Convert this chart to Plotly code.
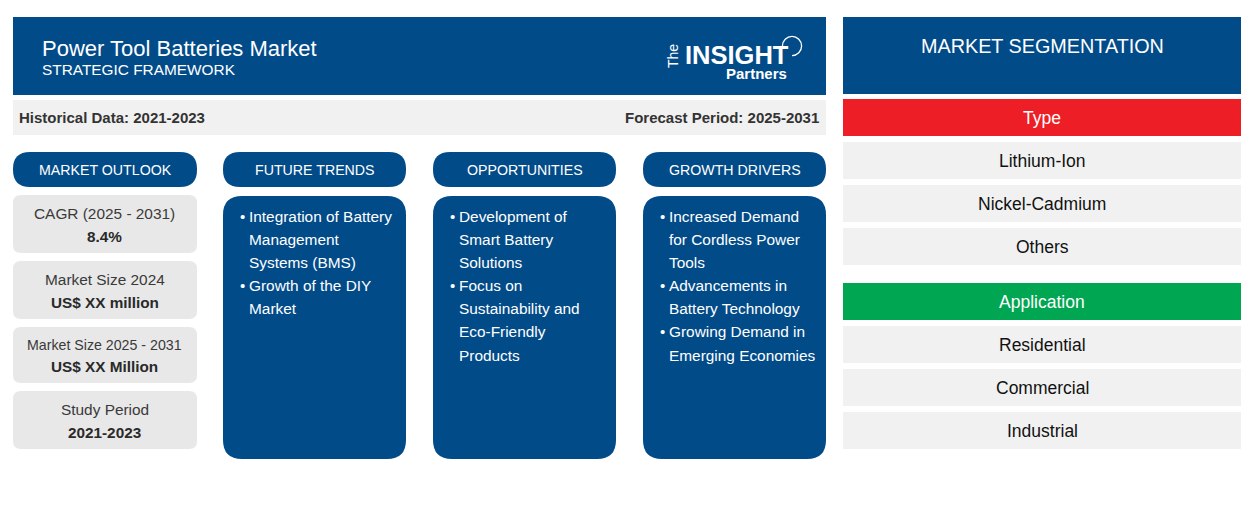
import plotly.graph_objects as go

TITLE = "Power Tool Batteries Market"
SUBTITLE = "STRATEGIC FRAMEWORK"
HISTORICAL = "Historical Data: 2021-2023"
FORECAST = "Forecast Period: 2025-2031"
OUTLOOK_LABELS = ["CAGR (2025 - 2031)", "Market Size 2024", "Market Size 2025 - 2031", "Study Period"]
OUTLOOK_VALUES = ["8.4%", "US$ XX million", "US$ XX Million", "2021-2023"]
COLUMN_HEADS = ["MARKET OUTLOOK", "FUTURE TRENDS", "OPPORTUNITIES", "GROWTH DRIVERS"]
TRENDS = [["Integration of Battery", "Management", "Systems (BMS)"], ["Growth of the DIY", "Market"]]
OPPORTUNITIES = [["Development of", "Smart Battery", "Solutions"], ["Focus on", "Sustainability and", "Eco-Friendly", "Products"]]
DRIVERS = [["Increased Demand", "for Cordless Power", "Tools"], ["Advancements in", "Battery Technology"], ["Growing Demand in", "Emerging Economies"]]
SEG_TITLE = "MARKET SEGMENTATION"
SEG_TYPE = "Type"
TYPE_ITEMS = ["Lithium-Ion", "Nickel-Cadmium", "Others"]
SEG_APP = "Application"
APP_ITEMS = ["Residential", "Commercial", "Industrial"]

BLUE = "#024b89"
GREY = "#e8e8e8"
LIGHT = "#f1f1f1"
RED = "#ee1e26"
GREEN = "#00a651"
FONT = "Liberation Sans"

shapes, notes = [], []


def rect(x0, y0, x1, y1, color, r=0):
    if r:
        path = (f"M{x0+r},{y0} L{x1-r},{y0} Q{x1},{y0} {x1},{y0+r} L{x1},{y1-r} Q{x1},{y1} {x1-r},{y1} "
                f"L{x0+r},{y1} Q{x0},{y1} {x0},{y1-r} L{x0},{y0+r} Q{x0},{y0} {x0+r},{y0} Z")
        shapes.append(dict(type="path", path=path, fillcolor=color, line_width=0, layer="below"))
    else:
        shapes.append(dict(type="rect", x0=x0, y0=y0, x1=x1, y1=y1, fillcolor=color, line_width=0, layer="below"))


def text(x, y, s, size, color="#ffffff", anchor="center", bold=False, family=FONT):
    # annotations carry about 2px of padding; compensate at the anchored edge
    dx = {"left": -2, "right": 2, "center": 0}[anchor]
    notes.append(dict(x=x + dx, y=y, text=f"<b>{s}</b>" if bold else s, showarrow=False, xanchor=anchor, yanchor="middle",
                      xref="x", yref="y", font=dict(family=family, size=size, color=color), align=anchor))


# header
rect(13, 17, 826, 95, BLUE)
text(42, 48, TITLE, 22, anchor="left")
text(42, 69.5, SUBTITLE, 15.4, anchor="left")
rect(13, 100, 826, 135, LIGHT)
text(19, 117.5, HISTORICAL, 15, "#333333", "left", True)
text(819, 117.5, FORECAST, 15, "#333333", "right", True)

# logo
text(737, 54.5, "INSIGHT", 25.5, bold=True)
notes.append(dict(x=672.5, y=56.5, text="The", textangle=-90, showarrow=False, xref="x", yref="y",
                  font=dict(family=FONT, size=14, color="#ffffff")))
text(756, 73.5, "Partners", 15, bold=True)
cx, cy, R, k = 792, 46, 9.6, 5.3
ring = (f"M{cx-R},{cy+3} L{cx-R},{cy} C{cx-R},{cy-k} {cx-k},{cy-R} {cx},{cy-R} "
        f"C{cx+k},{cy-R} {cx+R},{cy-k} {cx+R},{cy} C{cx+R},{cy+k} {cx+k},{cy+R} {cx},{cy+R}")
shapes.append(dict(type="path", path=ring, line=dict(color="#ffffff", width=1.3), layer="above"))

# column heads
col_x = [(13, 197), (223, 406), (433, 616), (643, 826)]
for (x0, x1), head in zip(col_x, COLUMN_HEADS):
    rect(x0, 152, x1, 187, BLUE, 17)
    text((x0 + x1) / 2, 170, head, 14.2)

# outlook cards
cards = [(195, 253, 213, 236.5), (261, 319, 279, 302.5), (327, 383, 344.5, 366.5), (391, 449, 409, 432.5)]
sizes = [15.4, 15.4, 14.2, 15.4]
for (y0, y1, ya, yb), lab, val, sz in zip(cards, OUTLOOK_LABELS, OUTLOOK_VALUES, sizes):
    rect(13, y0, 197, y1, GREY, 8)
    text(104.5, ya, lab, sz, "#3a3a3a")
    text(104.5, yb, val, 15.3, "#2a2a2a", bold=True)

# bullet panels
for (x0, x1), groups in zip(col_x[1:], [TRENDS, OPPORTUNITIES, DRIVERS]):
    rect(x0, 196, x1, 459, BLUE, 19)
    y = 216
    for group in groups:
        text(x0 + 19.5, y, "•", 15)
        for line in group:
            text(x0 + 25.7, y, line, 15.4, anchor="left")
            y += 23.17

# segmentation
rect(843, 17, 1241, 94, BLUE)
text(1042, 46, SEG_TITLE, 19.8)
for y0, head, color, items in [(99, SEG_TYPE, RED, TYPE_ITEMS), (283, SEG_APP, GREEN, APP_ITEMS)]:
    rect(843, y0, 1241, y0 + 37, color)
    text(1042, y0 + 19, head, 17.5)
    for i, item in enumerate(items):
        top = y0 + 43 + 43 * i
        rect(843, top, 1241, top + 37, LIGHT)
        text(1042, top + 19, item, 17.5, "#111111")

fig = go.Figure()
fig.update_layout(
    width=1254, height=530, margin=dict(l=0, r=0, t=0, b=0), paper_bgcolor="#ffffff", plot_bgcolor="#ffffff",
    xaxis=dict(range=[0, 1254], visible=False, fixedrange=True),
    yaxis=dict(range=[530, 0], visible=False, fixedrange=True),
    shapes=shapes, annotations=notes, showlegend=False,
)
fig.write_html("out.html", config={"displayModeBar": False},
               post_script="document.body.style.margin='0';document.body.style.overflow='hidden';")
